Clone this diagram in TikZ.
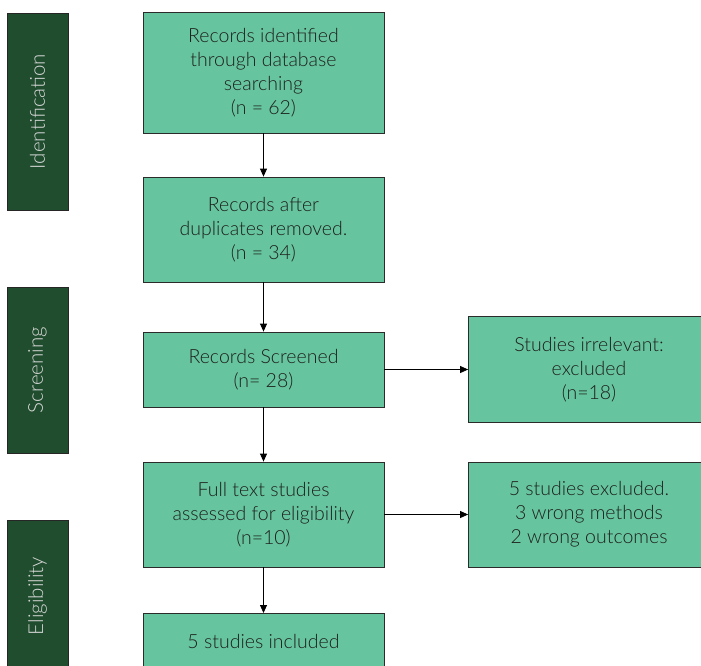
\documentclass[tikz,border=0pt]{standalone}
\usepackage{fontspec}
\setmainfont{Lato}[UprightFont=* Light]
\usetikzlibrary{arrows.meta}
\definecolor{boxfill}{HTML}{66C59E}
\definecolor{barfill}{HTML}{1F4D2E}
\definecolor{edge}{HTML}{2B2B2B}
\definecolor{txt}{HTML}{1E1E1E}
\definecolor{bartxt}{HTML}{D8D8D8}
\tikzset{
  stagebox/.style={draw=edge, line width=0.8pt, fill=boxfill, text=txt, align=center,
    minimum width=241pt, inner sep=0pt, font=\fontsize{19.5}{24}\selectfont},
  phasebar/.style={draw=black!85, line width=0.8pt, fill=barfill, minimum width=61pt,
    inner sep=0pt},
  phaselabel/.style={text=bartxt, rotate=90, font=\fontsize{20.5}{24}\selectfont},
  flow/.style={draw=black, line width=0.8pt, -{Triangle[length=8pt,width=7pt]}}
}
\begin{document}
\begin{tikzpicture}[x=1pt,y=-1pt]
\useasboundingbox (0,0) rectangle (701,665);
\clip (0,0) rectangle (701,665);
% phase bars
\node[phasebar, minimum height=197pt] (bid) at (37.5,111.5) {};
\node[phaselabel] (lid) at (bid.center) {Identification};
\node[phasebar, minimum height=166pt] (bsc) at (37.5,370) {};
\node[phaselabel] (lsc) at (bsc.center) {Screening};
\node[phasebar, minimum height=152pt] (bel) at (37.5,596) {};
\node[phaselabel] (lel) at (bel.center) {Eligibility};
% main column
\node[stagebox, minimum height=121pt] (b1) at (263.5,72.5) {Records identified\\through database\\searching\\(n = 62)};
\node[stagebox, minimum height=105pt] (b2) at (263.5,229.5) {Records after\\duplicates removed.\\(n = 34)};
\node[stagebox, minimum height=75pt] (b3) at (263.5,369.5) {Records Screened\\(n= 28)};
\node[stagebox, minimum height=105pt] (b4) at (263.5,514.5) {Full text studies\\assessed for eligibility\\(n=10)};
\node[stagebox, anchor=north, minimum height=0pt, inner ysep=21pt, text height=14pt, text depth=50pt] (b5) at (263.5,613) {5 studies included};
% right column
\node[stagebox, minimum height=106pt] (r1) at (589,369.5) {Studies irrelevant:\\excluded\\(n=18)};
\node[stagebox, minimum height=105pt] (r2) at (589,514.5) {5 studies excluded.\\3 wrong methods\\2 wrong outcomes};
% connectors
\draw[flow] (b1.south) -- (b2.north);
\draw[flow] (b2.south) -- (b3.north);
\draw[flow] (b3.south) -- (b4.north);
\draw[flow] (b4.south) -- (b5.north);
\draw[flow] (b3.east) -- (r1.west);
\draw[flow] (b4.east) -- (r2.west);
\end{tikzpicture}
\end{document}
